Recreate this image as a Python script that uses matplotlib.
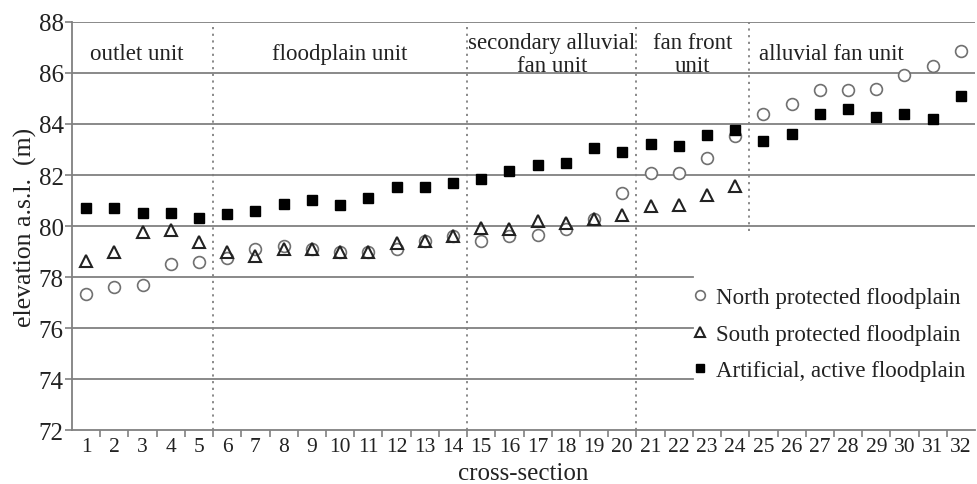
import numpy as np
import matplotlib.pyplot as plt

plt.rcParams['font.family'] = ['Liberation Serif', 'DejaVu Serif']

# cross-section numbers
sections = np.arange(1, 33)

# elevation of each floodplain (m a.s.l.)
north = [77.33, 77.62, 77.70, 78.51, 78.58, 78.74, 79.08, 79.20, 79.08, 79.00,
         79.00, 79.10, 79.42, 79.60, 79.42, 79.62, 79.63, 79.87, 80.26, 81.30,
         82.07, 82.07, 82.65, 83.53, 84.38, 84.80, 85.32, 85.32, 85.38, 85.92,
         86.27, 86.86]
south = [78.64, 78.99, 79.76, 79.84, 79.37, 79.00, 78.84, 79.08, 79.10, 79.00,
         79.00, 79.32, 79.40, 79.60, 79.92, 79.88, 80.18, 80.10, 80.26, 80.42,
         80.78, 80.84, 81.20, 81.55]
artificial = [80.70, 80.72, 80.52, 80.52, 80.30, 80.46, 80.60, 80.87, 81.02, 80.82,
              81.08, 81.53, 81.51, 81.67, 81.86, 82.16, 82.38, 82.49, 83.05, 82.92,
              83.20, 83.13, 83.56, 83.77, 83.34, 83.62, 84.38, 84.60, 84.26, 84.38,
              84.18, 85.10]

# geomorphic units: boundaries and names
unit_bounds = [5.5, 14.5, 20.5, 24.5]
unit_names = ['outlet unit', 'floodplain unit', 'secondary alluvial\nfan unit',
              'fan front\nunit', 'alluvial fan unit']
unit_x = [2.8, 10.0, 17.5, 22.5, 27.4]
unit_y = [86.78, 86.78, 86.75, 86.75, 86.78]

fig = plt.figure(figsize=(9.77, 4.85), dpi=100)
ax = fig.add_axes([0.0737, 0.1113, 0.9243, 0.8413])

# horizontal grid; lower lines stop short of the legend
grid_c = '#808080'
for y in [80, 82, 84, 86, 88]:
    ax.plot([0.5, 32.5], [y, y], color=grid_c, lw=1.3, zorder=1)
for y in [74, 76, 78]:
    ax.plot([0.5, 22.5], [y, y], color=grid_c, lw=1.3, zorder=1)

# dotted unit boundaries
for xb in unit_bounds[:3]:
    ax.plot([xb, xb], [72, 88], color=grid_c, lw=1.3, ls=(0, (1.2, 2.5)), zorder=1)
ax.plot([unit_bounds[3], unit_bounds[3]], [79.8, 88], color=grid_c, lw=1.3,
        ls=(0, (1.2, 2.5)), zorder=1)

for name, xt, yt in zip(unit_names, unit_x, unit_y):
    ax.text(xt, yt, name, ha='center', va='center', fontsize=16.5,
            color='#222222', linespacing=1.1)

ax.plot(sections, north, ls='none', marker='o', ms=8.5, mfc='white',
        mec='#707070', mew=1.2, label='North protected floodplain', zorder=3)
ax.plot(sections[:len(south)], south, ls='none', marker='^', ms=9, mfc='none',
        mec='#222222', mew=1.5, label='South protected floodplain', zorder=4)
ax.plot(sections, artificial, ls='none', marker='s', ms=7.5, mfc='black',
        mec='black', label='Artificial, active floodplain', zorder=5)

ax.set_xlim(0.5, 32.5)
ax.set_ylim(72, 88)
ax.set_xticks(sections)
ax.set_xticks(np.arange(1.5, 32.5, 1), minor=True)
ax.tick_params(axis='x', which='major', length=0, labelsize=15.5, pad=5,
               labelcolor='#222222')
ax.tick_params(axis='x', which='minor', length=5, width=1.2, color=grid_c)
ax.set_yticks(np.arange(72, 89, 2))
ax.tick_params(axis='y', length=5, width=1.2, color=grid_c, labelsize=18,
               labelcolor='#222222', pad=1)

for s in ['top', 'right']:
    ax.spines[s].set_visible(False)
for s in ['left', 'bottom']:
    ax.spines[s].set_color(grid_c)
    ax.spines[s].set_linewidth(1.3)

ax.set_xlabel('cross-section', fontsize=18, color='#222222', labelpad=4)
ax.set_ylabel('elevation a.s.l.  (m)', fontsize=18.5, color='#222222', labelpad=1)

leg = ax.legend(loc='center left', bbox_to_anchor=(0.673, 0.235), frameon=False,
                fontsize=16.5, handlelength=0.8, handletextpad=0.3,
                labelspacing=0.68, borderpad=0, markerscale=0.82)
for t in leg.get_texts():
    t.set_color('#222222')

fig.savefig('out.png', dpi=100)
